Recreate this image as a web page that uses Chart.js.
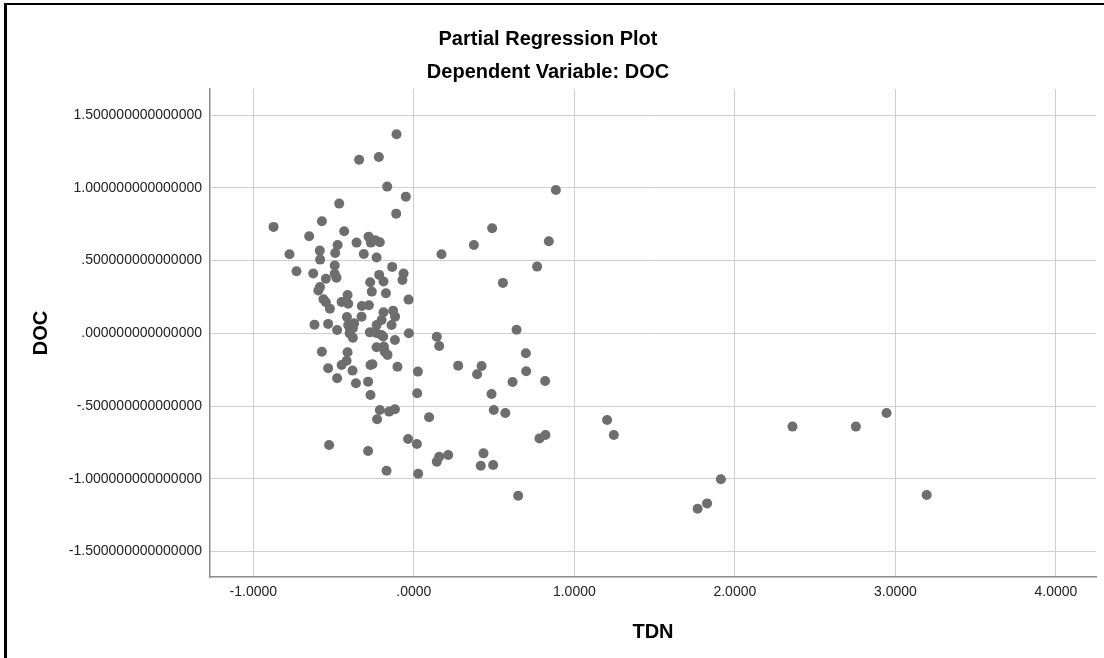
<!DOCTYPE html>
<html><head><meta charset="utf-8">
<script src="https://cdn.jsdelivr.net/npm/chart.js@4/dist/chart.umd.min.js"></script>
<style>
html,body{margin:0;padding:0;background:#fff;}
#wrap{position:relative;width:1104px;height:658px;overflow:hidden;}
canvas{position:absolute;left:0;top:0;}
#frame{position:absolute;left:4px;top:3px;right:-10px;bottom:-10px;border-left:3px solid #000;border-top:2px solid #000;pointer-events:none;}
</style></head><body>
<div id="wrap"><canvas id="c" width="1104" height="658"></canvas><div id="frame"></div></div>
<script>
// TDN (x) partial residuals
const tdn = [
 -0.108,-0.341,-0.218,-0.166,-0.050,-0.465,-0.110,-0.874,-0.573,-0.434,
 -0.652,-0.282,-0.357,-0.268,-0.212,-0.240,-0.775,-0.586,-0.475,-0.490,
 -0.312,-0.232,-0.584, 0.172, 0.374, 0.488, 0.885, 0.841, 0.768, 0.555,
 -0.731,-0.627,-0.493,-0.135,-0.064,-0.071,-0.493,-0.482,-0.548,-0.216,
 -0.189,-0.272,-0.585,-0.595,-0.262,-0.174,-0.413,-0.563,-0.548,-0.450,
 -0.409,-0.523,-0.324,-0.280,-0.033,-0.189,-0.129,-0.117,-0.417,-0.326,
 -0.201,-0.139,-0.619,-0.534,-0.372,-0.478,-0.397,-0.232,-0.031, 0.143,
  0.640,-0.409,-0.380,-0.400,-0.380,-0.274,-0.233,-0.202,-0.118,-0.232,
 -0.187,-0.181,-0.164,-0.573,-0.413,-0.419,-0.450,-0.382,-0.534,-0.478,
 -0.361,-0.285,-0.270,-0.258,-0.270,-0.102, 0.025, 0.021, 0.158, 0.276,
  0.422, 0.394, 0.484, 0.498, 0.570, 0.698, 0.700, 0.615, 0.818,-0.212,
 -0.154,-0.118,-0.229, 0.095,-0.528,-0.285,-0.036, 0.019,-0.170, 0.027,
  0.143, 0.158, 0.214, 0.434, 0.417, 0.494, 0.650, 1.204, 1.246, 0.783,
  0.820, 1.913, 1.827, 1.768, 2.359, 2.754, 2.945, 3.195,-0.191
];
// DOC (y) partial residuals
const doc = [
  1.369, 1.193, 1.213, 1.009, 0.940, 0.892, 0.823, 0.732, 0.771, 0.702,
  0.668, 0.665, 0.624, 0.624, 0.627, 0.640, 0.544, 0.569, 0.608, 0.553,
  0.546, 0.521, 0.507, 0.544, 0.608, 0.723, 0.986, 0.633, 0.459, 0.347,
  0.427, 0.411, 0.466, 0.457, 0.411, 0.367, 0.409, 0.383, 0.376, 0.402,
  0.356, 0.351, 0.318, 0.295, 0.287, 0.276, 0.264, 0.235, 0.214, 0.216,
  0.204, 0.170, 0.188, 0.193, 0.232, 0.145, 0.156, 0.115, 0.113, 0.115,
  0.092, 0.058, 0.060, 0.065, 0.069, 0.023, 0.023, 0.058, 0.001,-0.023,
  0.025, 0.058, 0.035, 0.000,-0.030, 0.007, 0.003,-0.011,-0.046,-0.095,
 -0.091,-0.126,-0.148,-0.126,-0.130,-0.188,-0.217,-0.256,-0.240,-0.309,
 -0.343,-0.332,-0.217,-0.212,-0.424,-0.229,-0.263,-0.412,-0.087,-0.222,
 -0.224,-0.281,-0.417,-0.527,-0.547,-0.137,-0.261,-0.334,-0.327,-0.527,
 -0.538,-0.522,-0.591,-0.577,-0.768,-0.809,-0.726,-0.761,-0.944,-0.965,
 -0.882,-0.848,-0.836,-0.825,-0.910,-0.905,-1.116,-0.596,-0.699,-0.722,
 -0.699,-1.003,-1.169,-1.206,-0.641,-0.641,-0.547,-1.111,-0.022
];
const xTickValues = [-1, 0, 1, 2, 3, 4];
const xTickLabels = ['-1.0000', '.0000', '1.0000', '2.0000', '3.0000', '4.0000'];
const yTickValues = [-1.5, -1, -0.5, 0, 0.5, 1, 1.5];
const yTickLabels = ['-1.500000000000000', '-1.000000000000000', '-.500000000000000',
  '.000000000000000', '.500000000000000', '1.000000000000000', '1.500000000000000'];
const chartTitle = 'Partial Regression Plot';
const chartSubtitle = 'Dependent Variable: DOC';
const xTitle = 'TDN';
const yTitle = 'DOC';

const FONT = "'Liberation Sans', Arial, sans-serif";
function labelFor(values, labels, v) {
  const i = values.findIndex(t => Math.abs(t - v) < 1e-9);
  return i >= 0 ? labels[i] : '';
}
const points = tdn.map((x, i) => ({ x: x, y: doc[i] }));

new Chart(document.getElementById('c'), {
  type: 'scatter',
  data: { datasets: [{
    data: points,
    pointRadius: 5,
    pointHoverRadius: 5,
    pointBackgroundColor: '#6e6e6e',
    pointBorderWidth: 0,
    borderWidth: 0
  }]},
  options: {
    responsive: false,
    animation: false,
    devicePixelRatio: 1,
    events: [],
    layout: { padding: { left: 0, right: 8, top: 0, bottom: 0 } },
    plugins: {
      legend: { display: false },
      tooltip: { enabled: false },
      title: { display: true, text: chartTitle, color: '#000',
        font: { family: FONT, size: 20, weight: 'bold' }, padding: { top: 27, bottom: 9.5 } },
      subtitle: { display: true, text: chartSubtitle, color: '#000',
        font: { family: FONT, size: 20, weight: 'bold' }, padding: { top: 0, bottom: 4.5 } }
    },
    scales: {
      x: {
        type: 'linear', position: 'bottom', min: -1.27, max: 4.25,
        afterBuildTicks: s => { s.ticks = xTickValues.map(v => ({ value: v })); },
        afterFit: s => { s.height = 81; },
        ticks: { callback: v => labelFor(xTickValues, xTickLabels, v), color: '#222',
          font: { family: FONT, size: 14 }, padding: 6.5, maxRotation: 0, autoSkip: false },
        grid: { color: '#cfcfcf', lineWidth: 1, drawTicks: false },
        border: { display: true, color: '#8c8c8c', width: 1.5 },
        title: { display: true, text: xTitle, color: '#000',
          font: { family: FONT, size: 20, weight: 'bold' }, padding: { top: 0, bottom: 14 } }
      },
      y: {
        type: 'linear', position: 'left', min: -1.675, max: 1.68,
        afterBuildTicks: s => { s.ticks = yTickValues.map(v => ({ value: v })); },
        afterFit: s => { s.width = 210; },
        ticks: { callback: v => labelFor(yTickValues, yTickLabels, v), color: '#222',
          font: { family: FONT, size: 14 }, padding: 8, autoSkip: false },
        grid: { color: '#cfcfcf', lineWidth: 1, drawTicks: false },
        border: { display: true, color: '#8c8c8c', width: 1.5 },
        title: { display: true, text: yTitle, color: '#000',
          font: { family: FONT, size: 20, weight: 'bold' }, padding: { top: 29, bottom: 0 } }
      }
    }
  }
});
</script>
</body></html>
